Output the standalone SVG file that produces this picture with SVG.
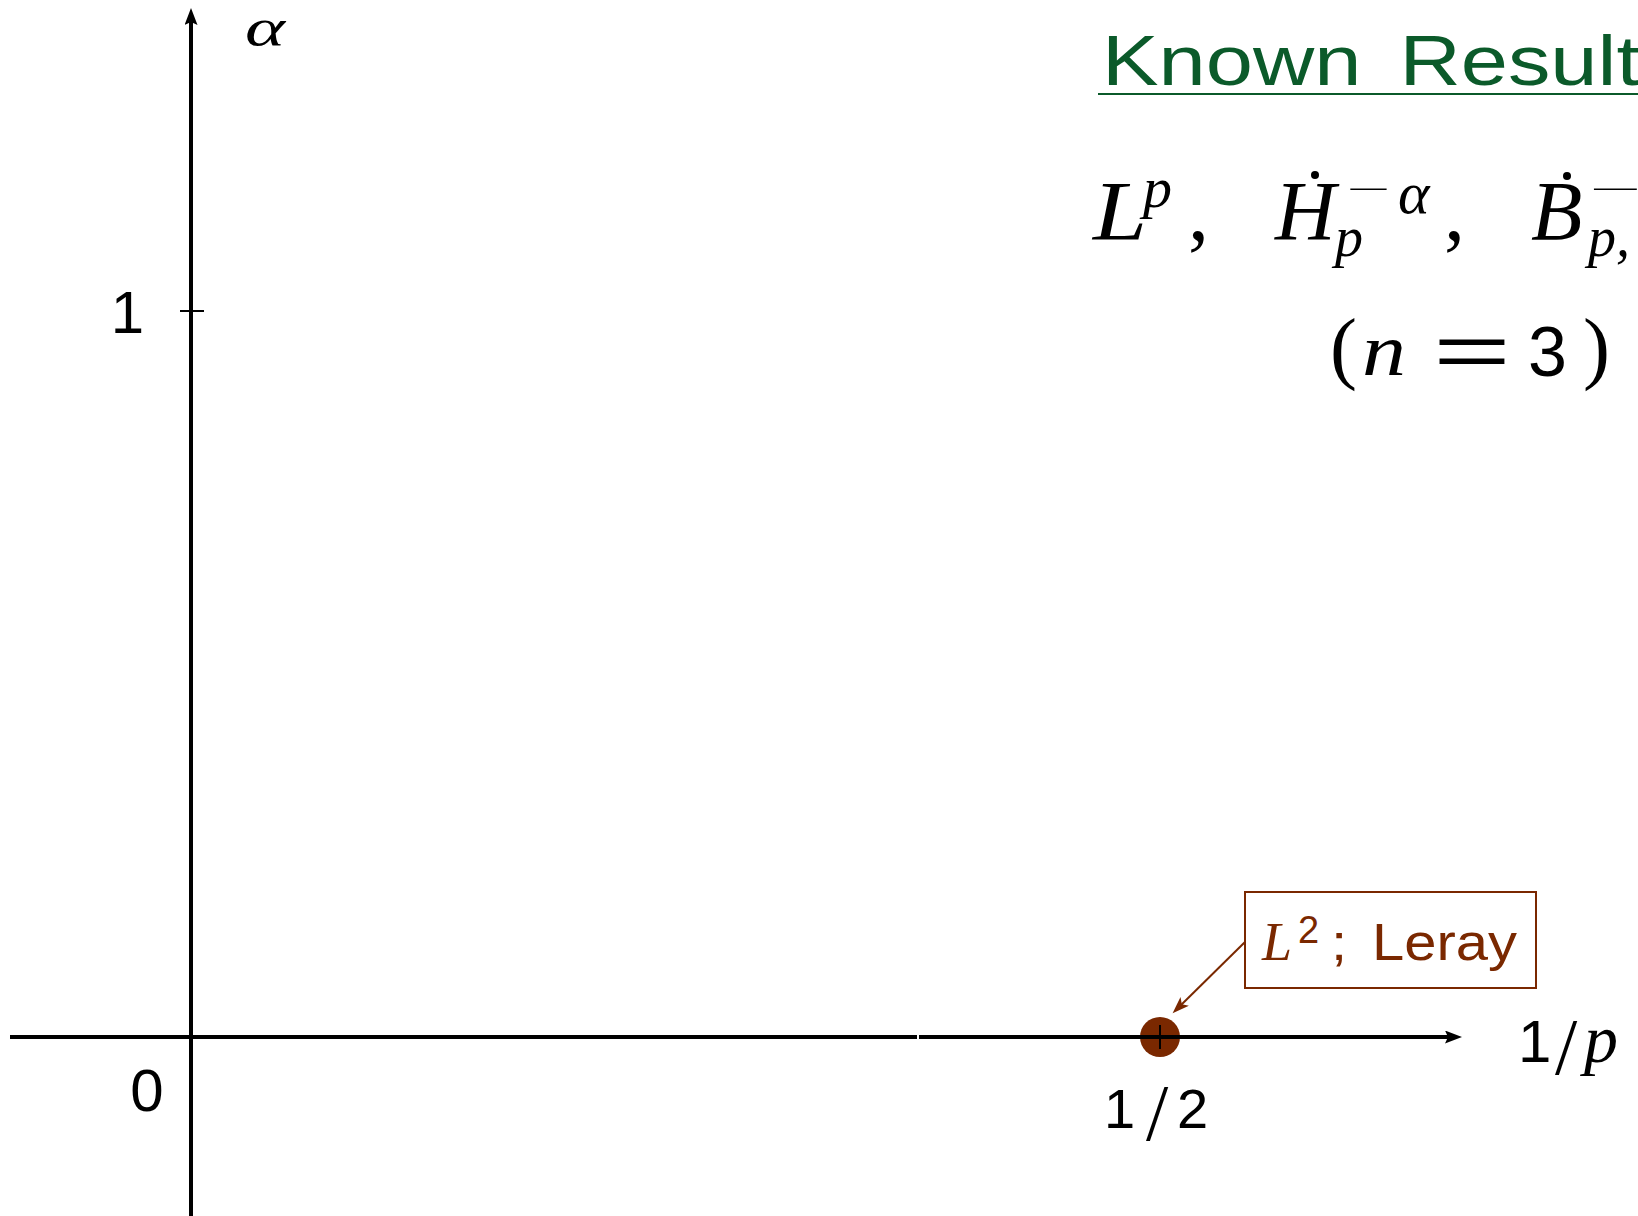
<svg xmlns="http://www.w3.org/2000/svg" width="1638" height="1216" viewBox="0 0 1638 1216">
<style>
.sans{font-family:"Liberation Sans","DejaVu Sans",sans-serif;}
.it{font-family:"Liberation Serif","DejaVu Serif",serif;font-style:italic;}
.rm{font-family:"Liberation Serif","DejaVu Serif",serif;}
.axis{stroke:#000;stroke-width:4;fill:none;}
.brown{fill:#7a2800;}
</style>
<defs>
<marker id="ax" markerUnits="userSpaceOnUse" markerWidth="18" markerHeight="14" refX="7" refY="6.5" orient="auto">
<path d="M0,0 L17,6.5 L0,13 L3,6.5 Z" fill="#000"/>
</marker>
<marker id="br" markerUnits="userSpaceOnUse" markerWidth="18" markerHeight="14" refX="8" refY="6" orient="auto">
<path d="M0,0 L17,6 L0,12 L4,6 Z" fill="#7a2800"/>
</marker>
</defs>
<rect width="1638" height="1216" fill="#fff"/>
<g id="leray-point">
<circle cx="1160" cy="1037" r="20" class="brown"/>
</g>
<g id="axes">
<line class="axis" x1="191" y1="1216" x2="191" y2="18" marker-end="url(#ax)"/>
<line class="axis" x1="10" y1="1037" x2="917" y2="1037"/>
<line class="axis" x1="919" y1="1037" x2="1452" y2="1037" marker-end="url(#ax)"/>
<line x1="180" y1="311" x2="204" y2="311" stroke="#000" stroke-width="2"/>
<line x1="1160" y1="1025" x2="1160" y2="1049" stroke="#000" stroke-width="2"/>
</g>
<g id="axis-labels">
<text class="sans" x="144" y="333" font-size="60" text-anchor="end">1</text>
<text class="sans" x="147" y="1111" font-size="60" text-anchor="middle">0</text>
<text class="it" x="245" y="45" font-size="52" textLength="40" lengthAdjust="spacingAndGlyphs">α</text>
<text class="sans" font-size="56" y="1128"><tspan x="1104">1</tspan><tspan class="rm" x="1146" y="1140" font-size="80">/</tspan><tspan x="1177" y="1128">2</tspan></text>
<text class="sans" font-size="60" y="1062"><tspan x="1518">1</tspan><tspan class="rm" x="1555" y="1074" font-size="80">/</tspan><tspan class="it" x="1584" y="1062" font-size="68">p</tspan></text>
</g>
<g id="title">
<text class="sans" x="1102" y="85" font-size="71" fill="#0b5a2a" word-spacing="12" textLength="538" lengthAdjust="spacingAndGlyphs">Known Result</text>
<line x1="1098" y1="94" x2="1638" y2="94" stroke="#0b5a2a" stroke-width="2"/>
</g>
<g id="formula" font-size="84">
<text class="it" x="1093" y="240" textLength="54" lengthAdjust="spacingAndGlyphs">L</text>
<text class="it" x="1143" y="207" font-size="58">p</text>
<text class="rm" x="1188" y="240">,</text>
<text class="it" x="1275" y="240">H</text>
<circle cx="1315" cy="175" r="4" fill="#000"/>
<text class="it" x="1335" y="256" font-size="56">p</text>
<text class="rm" x="1347" y="199" font-size="30" textLength="44" lengthAdjust="spacingAndGlyphs">−</text>
<text class="it" x="1398" y="213" font-size="60">α</text>
<text class="rm" x="1444" y="240">,</text>
<text class="it" x="1531" y="240">B</text>
<circle cx="1567" cy="176" r="4" fill="#000"/>
<text class="it" x="1588" y="256" font-size="56">p,</text>
<text class="rm" x="1590" y="199" font-size="30" textLength="52" lengthAdjust="spacingAndGlyphs">−</text>
</g>
<g id="n3">
<text class="rm" x="1330" y="374" font-size="81">(</text>
<text class="it" x="1362" y="375" font-size="74" textLength="44" lengthAdjust="spacingAndGlyphs">n</text>
<text class="sans" x="1433" y="377" font-size="76" textLength="78" lengthAdjust="spacingAndGlyphs">=</text>
<text class="sans" x="1528" y="376" font-size="70">3</text>
<text class="rm" x="1583" y="374" font-size="81">)</text>
</g>
<g id="leray-box">
<rect x="1245" y="892" width="291" height="96" fill="none" stroke="#7a2800" stroke-width="2"/>
<text fill="#7a2800" y="960"><tspan class="it" x="1262" font-size="54">L</tspan><tspan class="sans" x="1298" y="943" font-size="38">2</tspan><tspan class="sans" x="1331" y="960" font-size="52" word-spacing="8" textLength="186" lengthAdjust="spacingAndGlyphs">; Leray</tspan></text>
</g>
<g id="connectors">
<line x1="1245" y1="942" x2="1179" y2="1007" stroke="#7a2800" stroke-width="2" marker-end="url(#br)"/>
</g>
</svg>
